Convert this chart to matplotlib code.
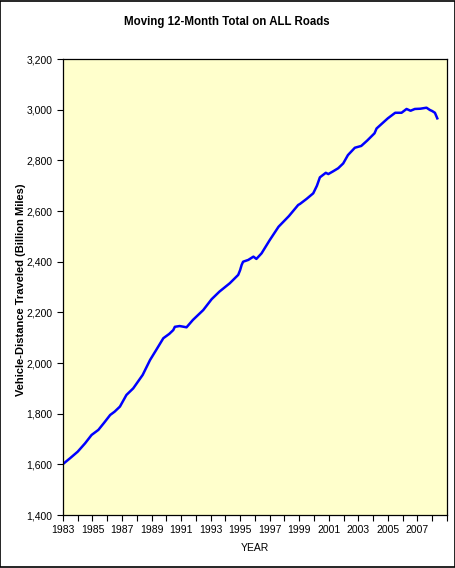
import matplotlib.pyplot as plt
from matplotlib.ticker import FuncFormatter

# values (decimal year, billion miles)
years = [1983.0, 1983.5, 1984.0, 1984.5, 1984.94, 1985.4, 1985.8, 1986.2, 1986.5,
         1986.86, 1987.3, 1987.76, 1988.4, 1988.9, 1989.3, 1989.8, 1990.2, 1990.47,
         1990.58, 1990.9, 1991.1, 1991.37, 1991.8, 1992.5, 1993.07, 1993.6, 1994.3,
         1994.87, 1995.0, 1995.1, 1995.2, 1995.55, 1995.9, 1996.1, 1996.45, 1997.0,
         1997.6, 1998.3, 1998.93, 1999.05, 1999.5, 1999.95, 2000.2, 2000.4, 2000.8,
         2000.97, 2001.3, 2001.64, 2001.98, 2002.3, 2002.77, 2003.2, 2003.6, 2004.1,
         2004.24, 2004.6, 2005.0, 2005.5, 2005.93, 2006.27, 2006.54, 2006.83, 2007.2,
         2007.62, 2007.85, 2008.0, 2008.19, 2008.35]
vmt = [1601, 1625, 1650, 1683, 1716, 1736, 1765, 1795, 1808,
       1828, 1874, 1900, 1953, 2012, 2050, 2098, 2115, 2130,
       2143, 2146, 2144, 2141, 2170, 2209, 2252, 2282, 2315,
       2348, 2367, 2387, 2400, 2407, 2420, 2411, 2433, 2485,
       2538, 2580, 2624, 2628, 2648, 2670, 2700, 2733, 2751,
       2746, 2757, 2769, 2788, 2821, 2850, 2857, 2878, 2907,
       2926, 2945, 2966, 2988, 2988, 3003, 2996, 3003, 3004,
       3008, 2999, 2995, 2988, 2966]
label_years = list(range(1983, 2008, 2))

fig = plt.figure(figsize=(4.56, 5.68), dpi=100)
plt.rcParams['font.family'] = ['Liberation Sans', 'DejaVu Sans']
ax = fig.add_axes([0.138, 0.0933, 0.842, 0.8027])
ax.set_facecolor('#FFFFCC')

ax.plot(years, vmt, color='#0000FF', linewidth=1.8)

ax.set_xlim(1983, 2009)
ax.set_ylim(1400, 3200)
ax.set_yticks(range(1400, 3201, 200))
ax.yaxis.set_major_formatter(FuncFormatter(lambda v, p: f"{int(v):,}"))
ax.set_xticks(range(1983, 2010))
ax.set_xticklabels([str(y) if y in label_years else '' for y in range(1983, 2010)])
ax.tick_params(axis='both', labelsize=7.5, length=4, width=0.8, direction='out', color='black')
ax.tick_params(axis='x', pad=3)
for s in ax.spines.values():
    s.set_linewidth(0.9)
    s.set_color('black')

fig.text(0.497, 0.962, 'Moving 12-Month Total on ALL Roads', ha='center', va='center',
         fontsize=8.3, fontweight='bold')
fig.text(0.559, 0.035, 'YEAR', ha='center', va='center', fontsize=7.5)
fig.text(0.046, 0.49, 'Vehicle-Distance Traveled (Billion Miles)', ha='center', va='center',
         rotation=90, fontsize=8, fontweight='bold')

# outer frame
fig.patches.append(plt.Rectangle((0.001, 0.001), 0.997, 0.997, transform=fig.transFigure,
                                 fill=False, edgecolor='black', linewidth=1.2))

fig.savefig('out.png', dpi=100)
